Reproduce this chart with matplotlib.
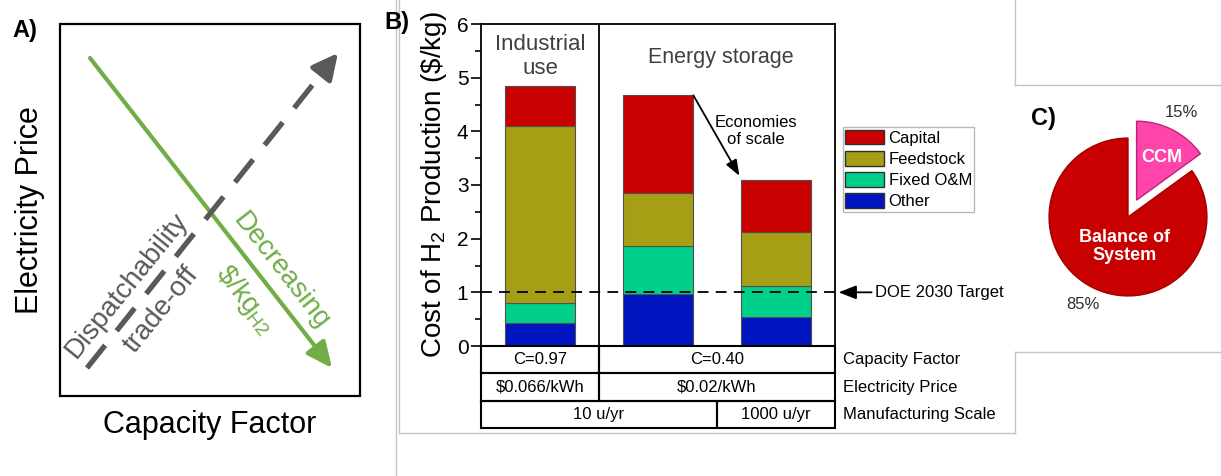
import numpy as np
import matplotlib.pyplot as plt
from matplotlib.patches import Rectangle, Patch
from matplotlib.ticker import MultipleLocator

plt.rcParams['font.family'] = ['Liberation Sans', 'DejaVu Sans']
plt.rcParams['mathtext.default'] = 'regular'

# B) levelized cost of H2 production ($/kg), stacked by component
cases = ['Industrial use', 'Energy storage (10 u/yr)', 'Energy storage (1000 u/yr)']
other = [0.43, 0.96, 0.54]
fixed_om = [0.37, 0.90, 0.58]
feedstock = [3.30, 1.00, 1.00]
capital = [0.75, 1.81, 0.98]
doe_target = 1.0

components = ['Other', 'Fixed O&M', 'Feedstock', 'Capital']
comp_colors = ['#0014C0', '#00D08C', '#A69E14', '#C80000']

# table under the bars: labels and which bars each cell spans
capacity_factor = ['C=0.97', 'C=0.40']
elec_price = ['$0.066/kWh', '$0.02/kWh']
mfg_scale = ['10 u/yr', '1000 u/yr']
cf_groups = [[0], [1, 2]]
scale_groups = [[0, 1], [2]]
row_names = ['Capacity Factor', 'Electricity Price', 'Manufacturing Scale']

# C) stack cost split
pie_labels = ['CCM', 'Balance of\nSystem']
pie_share = [15, 85]

green = '#70AD47'
grey = '#595959'
frame = '#C4C4C4'

fig = plt.figure(figsize=(12.21, 4.76), dpi=100)

# full-figure layer in pixel units for the schematic and panel frames
ov = fig.add_axes([0, 0, 1, 1])
ov.set_xlim(0, 1221)
ov.set_ylim(476, 0)
ov.axis('off')

for xs, ys in [([395.5, 395.5], [0, 476]), ([399, 399], [0, 433]),
               ([399, 1015], [433, 433]), ([1015, 1015], [0, 85]),
               ([1015, 1221], [85, 85]), ([1015, 1221], [352, 352]),
               ([1015, 1015], [352, 433])]:
    ov.plot(xs, ys, color=frame, lw=1)

# ---- A) schematic ----
ov.add_patch(Rectangle((60, 24), 300, 372, fill=False, ec='k', lw=1.6))
ov.text(12, 30, 'A)', fontsize=17, fontweight='bold', va='center')
ov.text(30, 210, 'Electricity Price', fontsize=22, rotation=90, ha='center', va='center')
ov.text(210, 425, 'Capacity Factor', fontsize=22, ha='center', va='center')

g_start, g_end = np.array([90, 58]), np.array([332, 368])
ov.annotate('', xy=g_end, xytext=g_start,
            arrowprops=dict(arrowstyle='-|>,head_length=1.3,head_width=0.6',
                            mutation_scale=12, color=green, lw=3, shrinkA=0, shrinkB=0))

d_start, d_end = np.array([87, 368]), np.array([338, 53])
u = (d_end - d_start) / np.linalg.norm(d_end - d_start)
ov.plot([d_start[0], (d_end - 24 * u)[0]], [d_start[1], (d_end - 24 * u)[1]],
        color=grey, lw=3.8, ls=(0, (5.5, 3.5)), solid_capstyle='butt', zorder=3)
ov.annotate('', xy=d_end, xytext=d_end - 26 * u,
            arrowprops=dict(arrowstyle='-|>,head_length=1.3,head_width=0.65',
                            mutation_scale=12, color=grey, lw=3.5, shrinkA=0, shrinkB=0),
            zorder=3)

ov.text(127, 285, 'Dispatchability', fontsize=20, color=grey, rotation=51,
        ha='center', va='center', rotation_mode='anchor')
ov.text(161, 310, 'trade-off', fontsize=20, color=grey, rotation=51,
        ha='center', va='center', rotation_mode='anchor')
ov.text(281, 271, 'Decreasing', fontsize=20, color=green, rotation=-52,
        ha='center', va='center', rotation_mode='anchor')
ov.text(245, 300, r'\$/kg$_{H2}$', fontsize=20, color=green, rotation=-52,
        ha='center', va='center', rotation_mode='anchor')

# ---- B) stacked bars ----
ov.text(397, 23, 'B)', fontsize=17, fontweight='bold', ha='center', va='center')
axB = fig.add_axes([481 / 1221, 130 / 476, 354 / 1221, 322 / 476])
x = np.arange(1, len(cases) + 1)
w = 0.6
bottom = np.zeros(len(cases))
for vals, col in zip([other, fixed_om, feedstock, capital], comp_colors):
    axB.bar(x, vals, w, bottom=bottom, color=col, edgecolor='#505050', lw=0.8, zorder=2)
    bottom += np.array(vals)
totals = bottom

axB.set_xlim(0.5, 3.5)
axB.set_ylim(0, 6)
axB.set_xticks([])
axB.yaxis.set_major_locator(MultipleLocator(1))
axB.yaxis.set_minor_locator(MultipleLocator(0.5))
axB.tick_params(axis='y', which='major', labelsize=15, length=7, width=1.2, pad=2)
axB.tick_params(axis='y', which='minor', length=4, width=1.2)
for s in axB.spines.values():
    s.set_linewidth(1.3)
axB.set_ylabel(r'Cost of H$_2$ Production (\$/kg)', fontsize=20)
axB.yaxis.set_label_coords(-0.09, 0.5)

axB.axvline(1.5, color='k', lw=1.3, zorder=3)
axB.axhline(doe_target, color='k', lw=1.3, ls=(0, (6, 4)), zorder=4)

axB.text(1, 5.4, 'Industrial\nuse', fontsize=16, color='#404040', ha='center', va='center')
axB.text(2.53, 5.38, 'Energy storage', fontsize=15.5, color='#404040', ha='center', va='center')

axB.annotate('', xy=(x[2] - w / 2 - 0.01, totals[2] + 0.07),
             xytext=(x[1] + w / 2, totals[1]),
             arrowprops=dict(arrowstyle='-|>,head_length=0.8,head_width=0.3',
                             mutation_scale=12, color='k', lw=1.3, shrinkA=0, shrinkB=0))
axB.text(2.83, 4.0, 'Economies\nof scale', fontsize=12, ha='center', va='center',
         linespacing=1.15)

axB.annotate('', xy=(3.53, doe_target), xytext=(3.81, doe_target),
             xycoords='data', annotation_clip=False,
             arrowprops=dict(arrowstyle='-|>,head_length=0.9,head_width=0.35',
                             mutation_scale=12, color='k', lw=1.3, shrinkA=0, shrinkB=0))
axB.text(3.84, doe_target, 'DOE 2030 Target', fontsize=12, ha='left', va='center')

handles = [Patch(facecolor=c, edgecolor='#303030', lw=1, label=n)
           for n, c in zip(components, comp_colors)][::-1]
leg = axB.legend(handles=handles, loc='upper left', bbox_to_anchor=(1.022, 0.68),
                 borderaxespad=0, fontsize=12, frameon=True, fancybox=False,
                 handlelength=2.3, handleheight=1.0, labelspacing=0.3,
                 handletextpad=0.3, borderpad=0.15)
leg.get_frame().set_edgecolor('#A8A8A8')
leg.get_frame().set_linewidth(1)

# table rows below the axis
row_h = 0.51
rows = [(capacity_factor, cf_groups), (elec_price, cf_groups), (mfg_scale, scale_groups)]
for k, (labels, groups) in enumerate(rows):
    y0, y1 = -k * row_h, -(k + 1) * row_h
    for lab, g in zip(labels, groups):
        xa, xb = x[g[0]] - 0.5, x[g[-1]] + 0.5
        axB.plot([xa, xa, xb, xb, xa], [y0, y1, y1, y0, y0], color='k', lw=1.5,
                 clip_on=False, solid_joinstyle='miter')
        axB.text((xa + xb) / 2, (y0 + y1) / 2, lab, fontsize=12, ha='center', va='center')
    axB.text(3.57, (y0 + y1) / 2, row_names[k], fontsize=12, ha='left', va='center')

# ---- C) pie ----
ov.text(1043, 118, 'C)', fontsize=17, fontweight='bold', ha='center', va='center')
axC = fig.add_axes([1017.5 / 1221, 148.5 / 476, 221 / 1221, 221 / 476])
wedges, texts = axC.pie(pie_share, labels=['%d%%' % p for p in pie_share],
                        colors=['#FF44AA', '#C80000'], explode=[0.24, 0],
                        startangle=90, counterclock=False, labeldistance=1.25,
                        textprops=dict(fontsize=12, color='#303030'))
for t in texts:
    t.set_ha('center')
    t.set_va('center')
wedges[0].set_edgecolor('#C0207E')
wedges[1].set_edgecolor('#A00000')
for wd in wedges:
    wd.set_linewidth(1)
axC.text(0.43, 0.76, pie_labels[0], fontsize=13, fontweight='bold', color='white',
         ha='center', va='center')
axC.text(-0.04, -0.37, pie_labels[1], fontsize=13, fontweight='bold', color='white',
         ha='center', va='center', linespacing=1.05)
axC.set_xlim(-1.4, 1.4)
axC.set_ylim(-1.4, 1.4)
axC.axis('off')

fig.savefig('out.png', dpi=100)
